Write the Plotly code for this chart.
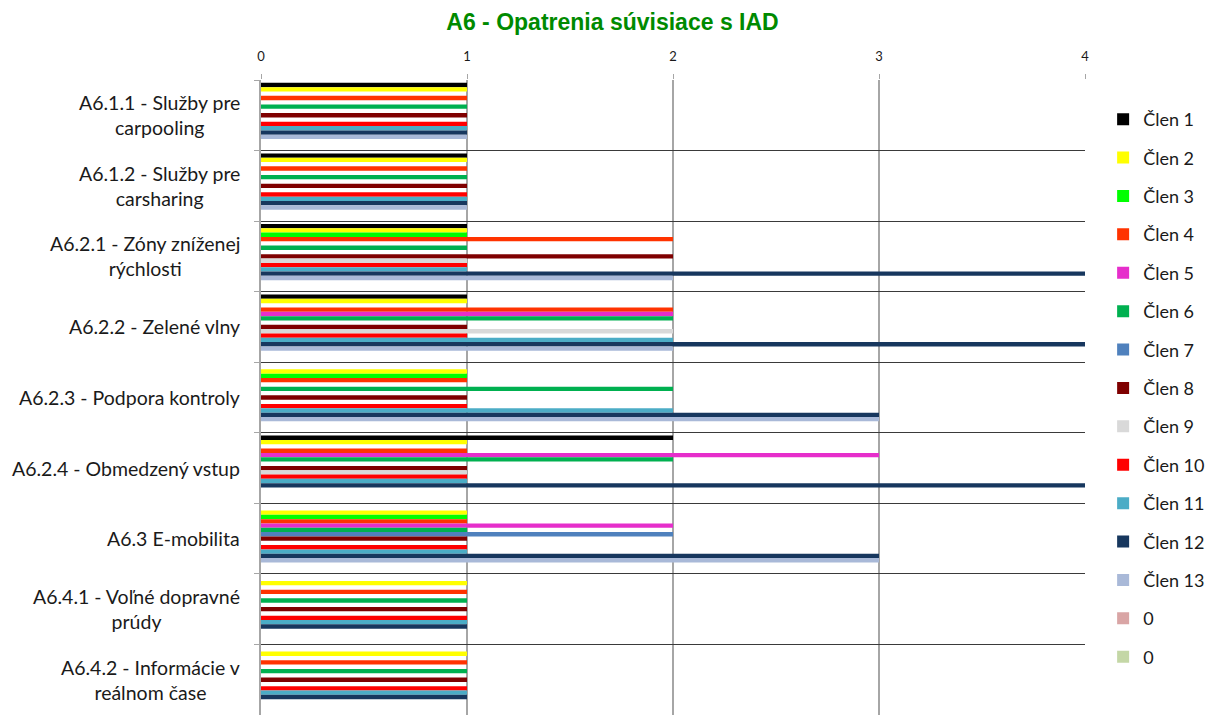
import plotly.graph_objects as go

categories = [
    "A6.1.1 - Služby pre<br>carpooling",
    "A6.1.2 - Služby pre<br>carsharing",
    "A6.2.1 - Zóny zníženej<br>rýchlosti",
    "A6.2.2 - Zelené vlny",
    "A6.2.3 - Podpora kontroly",
    "A6.2.4 - Obmedzený vstup",
    "A6.3 E-mobilita",
    "A6.4.1 - Voľné dopravné<br>prúdy",
    "A6.4.2 - Informácie v<br>reálnom čase",
]

series_names = ["Člen 1", "Člen 2", "Člen 3", "Člen 4", "Člen 5", "Člen 6", "Člen 7",
                "Člen 8", "Člen 9", "Člen 10", "Člen 11", "Člen 12", "Člen 13", "0", "0"]

# values per series, one per category (top to bottom)
clen1 = [1, 1, 1, 1, 0, 2, 0, 0, 0]
clen2 = [1, 1, 1, 1, 1, 1, 1, 1, 1]
clen3 = [0, 0, 1, 0, 1, 0, 1, 0, 0]
clen4 = [1, 1, 2, 2, 1, 1, 1, 1, 1]
clen5 = [0, 0, 0, 2, 0, 3, 2, 0, 0]
clen6 = [1, 1, 1, 2, 2, 2, 1, 1, 1]
clen7 = [0, 0, 0, 0, 0, 0, 2, 0, 0]
clen8 = [1, 1, 2, 1, 1, 1, 1, 1, 1]
clen9 = [0, 0, 1, 2, 0, 1, 0, 0, 0]
clen10 = [1, 1, 1, 1, 1, 1, 1, 1, 1]
clen11 = [1, 1, 1, 2, 2, 1, 1, 1, 1]
clen12 = [1, 1, 4, 4, 3, 4, 3, 1, 1]
clen13 = [1, 1, 2, 2, 3, 0, 3, 0, 0]
zero_a = [0, 0, 0, 0, 0, 0, 0, 0, 0]
zero_b = [0, 0, 0, 0, 0, 0, 0, 0, 0]

series_values = [clen1, clen2, clen3, clen4, clen5, clen6, clen7, clen8, clen9,
                 clen10, clen11, clen12, clen13, zero_a, zero_b]

colors = ["#000000", "#FFFF00", "#00FF00", "#FF3300", "#E62ECB", "#00B050", "#4F81BD",
          "#7F0000", "#D9D9D9", "#FF0000", "#4BACC6", "#17375E", "#A9B9D8", "#D9A5A5", "#C4D7A6"]

x_ticks = [0, 1, 2, 3, 4]

fig = go.Figure()
for i, (name, vals, col) in enumerate(zip(series_names, series_values, colors)):
    fig.add_trace(go.Bar(
        y=categories, x=vals, name=name, orientation="h",
        marker=dict(color=col, line=dict(width=0)),
        legendgroup=f"g{i}",
    ))

for cat in categories:
    fig.add_annotation(
        x=0, xref="paper", xanchor="right", xshift=-19,
        y=cat, yref="y", text=cat, showarrow=False, align="center",
        font=dict(family="Lato", size=19.5, color="#1a1a1a"),
    )

fig.update_layout(
    width=1209, height=707,
    margin=dict(l=253, r=132, t=72, b=0),
    paper_bgcolor="white", plot_bgcolor="white",
    barmode="group", bargap=0.08, bargroupgap=0,
    title=dict(text="<b>A6 - Opatrenia súvisiace s IAD</b>", x=0.5, xanchor="center",
               y=0.980, yanchor="middle",
               font=dict(family="Liberation Sans", size=23, color="#008A00")),
    xaxis=dict(side="top", range=[0, 4], tickvals=x_ticks, ticktext=[str(t) for t in x_ticks],
               showgrid=True, gridcolor="#A6A6A6", gridwidth=1.5, zeroline=False,
               ticks="outside", ticklen=5, tickcolor="#A6A6A6", ticklabelstandoff=8,
               tickfont=dict(family="Lato", size=13, color="#1a1a1a"),
               showline=False, fixedrange=True),
    yaxis=dict(autorange="reversed", tickson="boundaries", showticklabels=False,
               showgrid=True, gridcolor="#3a3a3a", gridwidth=1,
               ticks="outside", ticklen=5, tickcolor="#A6A6A6",
               showline=True, linecolor="#A6A6A6", linewidth=1.5),
    legend=dict(x=1.022, xanchor="left", y=0.967, yanchor="top",
                font=dict(family="Lato", size=18, color="#1a1a1a"),
                tracegroupgap=12, bgcolor="rgba(0,0,0,0)"),
    showlegend=True,
)

fig.write_html("out.html")
